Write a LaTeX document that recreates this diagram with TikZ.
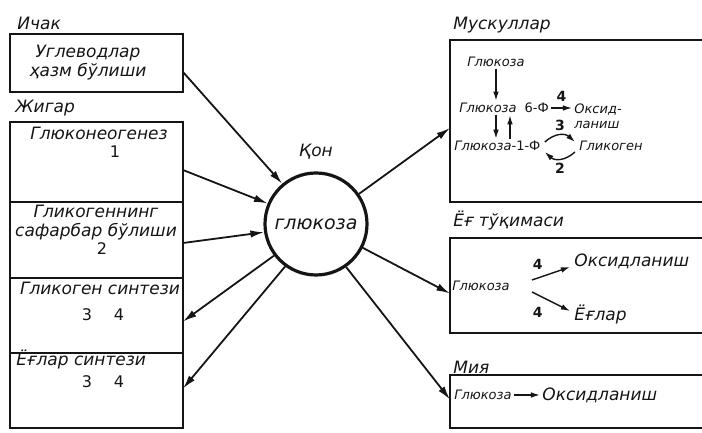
\documentclass[tikz,border=0pt]{standalone}
\usepackage{fontspec}
\setmainfont{DejaVu Sans}
\usepackage{tikz}
\usetikzlibrary{arrows.meta,positioning}
\definecolor{cink}{HTML}{151515}
\newcommand{\txtfont}{\fontsize{8.5}{9.5}\selectfont\itshape}
\newcommand{\smfont}{\fontsize{6.5}{7.5}\selectfont\itshape}
\newcommand{\bigfont}{\fontsize{9.5}{10}\selectfont\itshape}
\newcommand{\numfont}{\fontsize{8}{9}\selectfont\upshape}
\newcommand{\upsm}{\fontsize{6.5}{7.5}\selectfont\upshape}
\newcommand{\bnumfont}{\fontsize{7}{8}\selectfont\bfseries\upshape}
\tikzset{
  orgbox/.style={draw=cink, line width=0.7pt, minimum width=86.5pt, inner sep=0pt,
                 outer sep=0pt},
  sidebox/.style={draw=cink, line width=0.7pt, minimum width=130pt, inner sep=0pt,
                  outer sep=0pt, anchor=north west},
  orglbl/.style={font=\txtfont, text=cink, anchor=west, inner sep=1pt},
  ntxt/.style={font=\txtfont, text=cink, inner sep=1pt, align=center},
  nsm/.style={font=\smfont, text=cink, inner sep=1pt, anchor=west},
  nnum/.style={font=\numfont, text=cink, inner sep=1pt},
  nbold/.style={font=\bnumfont, text=cink, inner sep=1pt},
  nblood/.style={circle, draw=cink, line width=1.6pt, minimum size=51pt, inner sep=0pt,
                 font=\bigfont, text=cink},
  flow/.style={-{Latex[length=2.4mm, width=1.3mm]}, line width=0.9pt, draw=cink},
  flowi/.style={-{Latex[length=1.6mm, width=1mm]}, line width=0.7pt, draw=cink},
}
\begin{document}
\begin{tikzpicture}[x=0.5pt, y=0.5pt, node distance=0pt]
  \useasboundingbox (0,0) rectangle (702,433);
  \node[orglbl] (lichak) at (15,410) {Ичак};
  \node[orgbox, minimum height=29pt, anchor=north west] (ichak) at (10,399) {};
  \node[ntxt] (tichak) at (88,370.5) {Углеводлар\\ҳазм бўлиши};
  \node[orglbl] (ljigar) at (13,325) {Жигар};
  \node[orgbox, minimum height=40pt, anchor=north west] (j1) at (10,311) {};
  \node[orgbox, minimum height=38pt, below=of j1] (j2) {};
  \node[orgbox, minimum height=37.5pt, below=of j2] (j3) {};
  \node[orgbox, minimum height=37.5pt, below=of j3] (j4) {};
  \node[ntxt] (tj1) at (99,300) {Глюконеогенез};
  \node[nnum] (nj1) at (115,281) {1};
  \node[ntxt] (tj2) at (96,210) {Гликогеннинг\\сафарбар бўлиши};
  \node[nnum] (nj2) at (102,184) {2};
  \node[ntxt] (tj3) at (100,145) {Гликоген синтези};
  \node[nnum] (nj3) at (103,118) {3\hspace{11pt}4};
  \node[orglbl] (tj4) at (14,73) {Ёғлар синтези};
  \node[nnum] (nj4) at (103,51) {3\hspace{11pt}4};

  \node[nblood] (qon) at (316,209) {глюкоза};
  \node[ntxt, above=5pt of qon] (lqon) {Қон};

  \node[orglbl] (lmusk) at (451,408) {Мускуллар};
  \node[sidebox, minimum height=81pt] (musk) at (450,393) {};
  \node[nsm] (mglu) at (465,371) {Глюкоза};
  \node[nsm] (mg6) at (457,325) {Глюкоза\hspace{4pt}\upsm 6-Ф};
  \node[nsm, align=left] (moks) at (572,317) {Оксид-\\ланиш};
  \node[nsm] (mg1) at (452,287) {Глюкоза\upsm -1-Ф};
  \node[nsm] (mglik) at (577,287) {Гликоген};
  \draw[flowi] (mglu.south) -- (mglu.south |- mg6.north);
  \draw[flowi] (mg6.east) -- (mg6.east -| moks.west) node[nbold, midway, above=2pt] {4};
  \draw[flowi] (mg6.south -| mglu.south) -- (mg1.north -| mglu.south);
  \draw[flowi] ([xshift=7pt]mg1.north -| mglu.south) -- ([xshift=7pt]mg6.south -| mglu.south);
  \draw[flowi] ([xshift=1pt,yshift=2pt]mg1.east) .. controls +(10,9) and +(-10,9) ..
    ([xshift=-1pt,yshift=2pt]mglik.west) node[nbold, midway, above=1pt] {3};
  \draw[flowi] ([xshift=-1pt,yshift=-3pt]mglik.west) .. controls +(-10,-9) and +(10,-9) ..
    ([xshift=1pt,yshift=-3pt]mg1.east) node[nbold, midway, below=1pt] {2};

  \node[orglbl] (lyog) at (451,212) {Ёғ тўқимаси};
  \node[sidebox, minimum height=47.5pt] (yog) at (450,195) {};
  \node[nsm] (yglu) at (450,147) {Глюкоза};
  \node[orglbl] (yoks) at (572,172) {Оксидланиш};
  \node[orglbl] (yegl) at (572,118) {Ёғлар};
  \draw[flowi] ([xshift=10pt,yshift=3pt]yglu.east) -- ([xshift=-1pt,yshift=-3pt]yoks.west)
    node[nbold, pos=0.15, above=3pt] {4};
  \draw[flowi] ([xshift=10pt,yshift=-3pt]yglu.east) -- ([xshift=-1pt,yshift=2pt]yegl.west)
    node[nbold, pos=0.15, below=5pt] {4};

  \node[orglbl] (lmiya) at (451,66) {Мия};
  \node[sidebox, minimum height=26.5pt] (miya) at (450,58) {};
  \node[nsm] (bglu) at (452,38) {Глюкоза};
  \node[orglbl] (boks) at (540,38) {Оксидланиш};
  \draw[flowi] (bglu.east) -- (boks.west);

  \draw[flow] ([yshift=-4.5pt]ichak.east) -- (qon.130);
  \draw[flow] ([yshift=-4pt]j1.east) -- (qon.157);
  \draw[flow] ([yshift=-1.5pt]j2.east) -- (qon.189);
  \draw[flow] (qon.217) -- ([yshift=-3pt]j3.east);
  \draw[flow] (qon.234) -- ([yshift=1pt]j4.east);
  \draw[flow] (qon.35) -- ([yshift=-3.5pt]musk.west);
  \draw[flow] (qon.-27) -- ([yshift=-4pt]yog.west);
  \draw[flow] (qon.-55) -- ([yshift=1pt]miya.west);
\end{tikzpicture}
\end{document}
